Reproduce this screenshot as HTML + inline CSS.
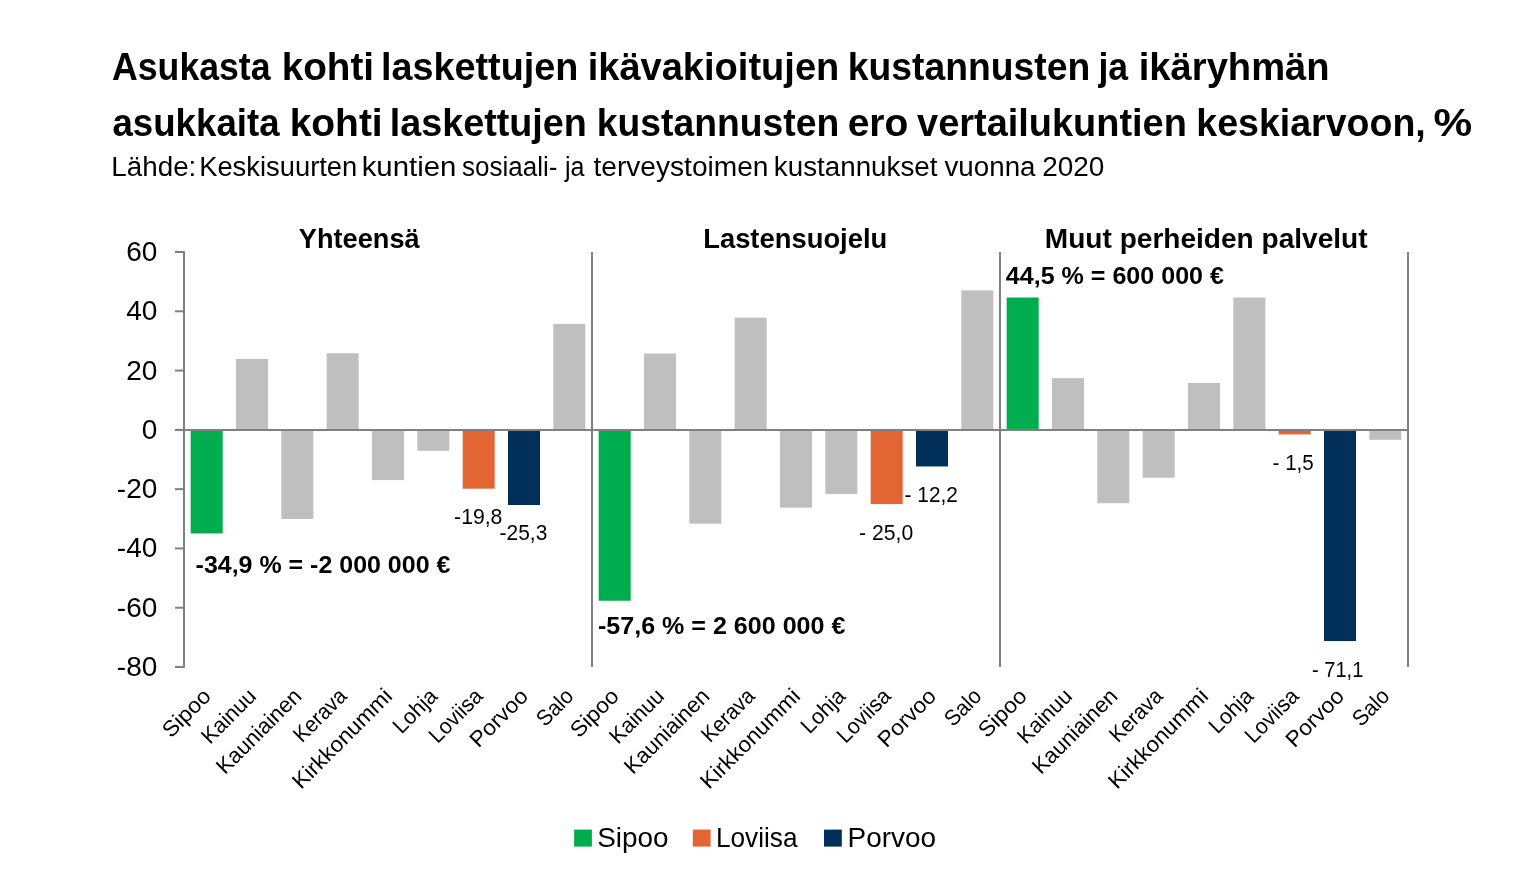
<!DOCTYPE html><html><head><meta charset="utf-8"><style>html,body{margin:0;padding:0;background:#fff;width:1536px;height:876px;overflow:hidden}svg{display:block;will-change:transform}text{font-family:"Liberation Sans",sans-serif;fill:#000}.b{font-weight:bold}</style></head><body>
<svg width="1536" height="876" viewBox="0 0 1536 876">
<rect x="190.67" y="430.00" width="32.0" height="103.45" fill="#00AD4E"/>
<rect x="236.00" y="358.86" width="32.0" height="71.14" fill="#BFBFBF"/>
<rect x="281.33" y="430.00" width="32.0" height="88.93" fill="#BFBFBF"/>
<rect x="326.67" y="353.23" width="32.0" height="76.78" fill="#BFBFBF"/>
<rect x="372.00" y="430.00" width="32.0" height="50.10" fill="#BFBFBF"/>
<rect x="417.33" y="430.00" width="32.0" height="20.75" fill="#BFBFBF"/>
<rect x="462.67" y="430.00" width="32.0" height="58.69" fill="#E26634"/>
<rect x="508.00" y="430.00" width="32.0" height="75.00" fill="#003059"/>
<rect x="553.33" y="323.88" width="32.0" height="106.12" fill="#BFBFBF"/>
<rect x="598.67" y="430.00" width="32.0" height="170.74" fill="#00AD4E"/>
<rect x="644.00" y="353.52" width="32.0" height="76.48" fill="#BFBFBF"/>
<rect x="689.33" y="430.00" width="32.0" height="93.67" fill="#BFBFBF"/>
<rect x="734.67" y="317.65" width="32.0" height="112.35" fill="#BFBFBF"/>
<rect x="780.00" y="430.00" width="32.0" height="77.66" fill="#BFBFBF"/>
<rect x="825.33" y="430.00" width="32.0" height="64.03" fill="#BFBFBF"/>
<rect x="870.67" y="430.00" width="32.0" height="74.11" fill="#E26634"/>
<rect x="916.00" y="430.00" width="32.0" height="36.46" fill="#003059"/>
<rect x="961.33" y="290.38" width="32.0" height="139.62" fill="#BFBFBF"/>
<rect x="1006.67" y="297.50" width="32.0" height="132.50" fill="#00AD4E"/>
<rect x="1052.00" y="378.12" width="32.0" height="51.88" fill="#BFBFBF"/>
<rect x="1097.33" y="430.00" width="32.0" height="73.22" fill="#BFBFBF"/>
<rect x="1142.67" y="430.00" width="32.0" height="47.73" fill="#BFBFBF"/>
<rect x="1188.00" y="382.87" width="32.0" height="47.13" fill="#BFBFBF"/>
<rect x="1233.33" y="297.50" width="32.0" height="132.50" fill="#BFBFBF"/>
<rect x="1278.67" y="430.00" width="32.0" height="4.45" fill="#E26634"/>
<rect x="1324.00" y="430.00" width="32.0" height="211.06" fill="#003059"/>
<rect x="1369.33" y="430.00" width="32.0" height="9.78" fill="#BFBFBF"/>
<g stroke="#808080" stroke-width="2" fill="none">
<path d="M175 252H184V667H175" stroke-linejoin="round"/>
<path d="M175 311.29H184"/>
<path d="M175 370.57H184"/>
<path d="M175 429.86H184"/>
<path d="M175 489.14H184"/>
<path d="M175 548.43H184"/>
<path d="M175 607.71H184"/>
<path d="M175 430.0H1408"/>
<path d="M592 252V667"/>
<path d="M1000 252V667"/>
<path d="M1408 252V667"/>
</g>
<text x="112.07" y="79.60" font-size="39" class="b" textLength="158.47" lengthAdjust="spacingAndGlyphs" xml:space="preserve">Asukasta</text>
<text x="281.68" y="79.60" font-size="39" class="b" textLength="92.35" lengthAdjust="spacingAndGlyphs" xml:space="preserve">kohti</text>
<text x="380.98" y="79.60" font-size="39" class="b" textLength="197.43" lengthAdjust="spacingAndGlyphs" xml:space="preserve">laskettujen</text>
<text x="587.68" y="79.60" font-size="39" class="b" textLength="251.61" lengthAdjust="spacingAndGlyphs" xml:space="preserve">ikävakioitujen</text>
<text x="847.76" y="79.60" font-size="39" class="b" textLength="242.45" lengthAdjust="spacingAndGlyphs" xml:space="preserve">kustannusten</text>
<text x="1098.41" y="79.60" font-size="39" class="b" textLength="29.64" lengthAdjust="spacingAndGlyphs" xml:space="preserve">ja</text>
<text x="1138.73" y="79.60" font-size="39" class="b" textLength="190.94" lengthAdjust="spacingAndGlyphs" xml:space="preserve">ikäryhmän</text>
<text x="112.47" y="136.00" font-size="39" class="b" textLength="167.07" lengthAdjust="spacingAndGlyphs" xml:space="preserve">asukkaita</text>
<text x="289.65" y="136.00" font-size="39" class="b" textLength="93.05" lengthAdjust="spacingAndGlyphs" xml:space="preserve">kohti</text>
<text x="389.73" y="136.00" font-size="39" class="b" textLength="197.13" lengthAdjust="spacingAndGlyphs" xml:space="preserve">laskettujen</text>
<text x="596.84" y="136.00" font-size="39" class="b" textLength="242.45" lengthAdjust="spacingAndGlyphs" xml:space="preserve">kustannusten</text>
<text x="847.66" y="136.00" font-size="39" class="b" textLength="60.57" lengthAdjust="spacingAndGlyphs" xml:space="preserve">ero</text>
<text x="917.05" y="136.00" font-size="39" class="b" textLength="269.81" lengthAdjust="spacingAndGlyphs" xml:space="preserve">vertailukuntien</text>
<text x="1196.30" y="136.00" font-size="39" class="b" textLength="229.48" lengthAdjust="spacingAndGlyphs" xml:space="preserve">keskiarvoon,</text>
<text x="1433.56" y="136.00" font-size="39" class="b" textLength="38.72" lengthAdjust="spacingAndGlyphs" xml:space="preserve">%</text>
<text x="111.36" y="175.60" font-size="27" textLength="84.99" lengthAdjust="spacingAndGlyphs" xml:space="preserve">Lähde:</text>
<text x="199.17" y="175.60" font-size="27" textLength="158.12" lengthAdjust="spacingAndGlyphs" xml:space="preserve">Keskisuurten</text>
<text x="361.71" y="175.60" font-size="27" textLength="94.63" lengthAdjust="spacingAndGlyphs" xml:space="preserve">kuntien</text>
<text x="462.10" y="175.60" font-size="27" textLength="95.26" lengthAdjust="spacingAndGlyphs" xml:space="preserve">sosiaali-</text>
<text x="564.98" y="175.60" font-size="27" textLength="19.51" lengthAdjust="spacingAndGlyphs" xml:space="preserve">ja</text>
<text x="593.51" y="175.60" font-size="27" textLength="174.94" lengthAdjust="spacingAndGlyphs" xml:space="preserve">terveystoimen</text>
<text x="773.85" y="175.60" font-size="27" textLength="163.64" lengthAdjust="spacingAndGlyphs" xml:space="preserve">kustannukset</text>
<text x="944.51" y="175.60" font-size="27" textLength="91.03" lengthAdjust="spacingAndGlyphs" xml:space="preserve">vuonna</text>
<text x="1042.26" y="175.60" font-size="27" textLength="62.13" lengthAdjust="spacingAndGlyphs" xml:space="preserve">2020</text>
<text x="298.86" y="247.60" font-size="27" class="b" textLength="120.78" lengthAdjust="spacingAndGlyphs" xml:space="preserve">Yhteensä</text>
<text x="703.20" y="247.50" font-size="27" class="b" textLength="184.10" lengthAdjust="spacingAndGlyphs" xml:space="preserve">Lastensuojelu</text>
<text x="1044.84" y="247.60" font-size="27" class="b" textLength="322.78" lengthAdjust="spacingAndGlyphs" xml:space="preserve">Muut perheiden palvelut</text>
<text x="1005.88" y="283.90" font-size="23.5" class="b" textLength="218.04" lengthAdjust="spacingAndGlyphs" xml:space="preserve">44,5 % = 600 000 €</text>
<text x="195.58" y="572.70" font-size="23.5" class="b" textLength="254.80" lengthAdjust="spacingAndGlyphs" xml:space="preserve">-34,9 % = -2 000 000 €</text>
<text x="597.96" y="633.80" font-size="23.5" class="b" textLength="247.42" lengthAdjust="spacingAndGlyphs" xml:space="preserve">-57,6 % = 2 600 000 €</text>
<text x="454.08" y="523.80" font-size="22" textLength="48.34" lengthAdjust="spacingAndGlyphs" xml:space="preserve">-19,8</text>
<text x="499.60" y="540.20" font-size="22" textLength="47.70" lengthAdjust="spacingAndGlyphs" xml:space="preserve">-25,3</text>
<text x="904.60" y="501.50" font-size="22" textLength="53.28" lengthAdjust="spacingAndGlyphs" xml:space="preserve">- 12,2</text>
<text x="859.10" y="539.90" font-size="22" textLength="54.16" lengthAdjust="spacingAndGlyphs" xml:space="preserve">- 25,0</text>
<text x="1272.62" y="469.70" font-size="22" textLength="41.14" lengthAdjust="spacingAndGlyphs" xml:space="preserve">- 1,5</text>
<text x="1311.96" y="676.50" font-size="22" textLength="51.44" lengthAdjust="spacingAndGlyphs" xml:space="preserve">- 71,1</text>
<text x="597.20" y="847.30" font-size="28.5" textLength="71.34" lengthAdjust="spacingAndGlyphs" xml:space="preserve">Sipoo</text>
<text x="715.92" y="847.30" font-size="28.5" textLength="81.56" lengthAdjust="spacingAndGlyphs" xml:space="preserve">Loviisa</text>
<text x="847.54" y="847.30" font-size="28.5" textLength="88.48" lengthAdjust="spacingAndGlyphs" xml:space="preserve">Porvoo</text>
<text x="157.3" y="261.00" font-size="28" text-anchor="end">60</text>
<text x="157.3" y="320.29" font-size="28" text-anchor="end">40</text>
<text x="157.3" y="379.57" font-size="28" text-anchor="end">20</text>
<text x="157.3" y="438.86" font-size="28" text-anchor="end">0</text>
<text x="157.3" y="498.14" font-size="28" text-anchor="end">-20</text>
<text x="157.3" y="557.43" font-size="28" text-anchor="end">-40</text>
<text x="157.3" y="616.71" font-size="28" text-anchor="end">-60</text>
<text x="157.3" y="676.00" font-size="28" text-anchor="end">-80</text>
<text transform="translate(212.17,697.5) rotate(-45)" text-anchor="end" font-size="22" textLength="58.4" lengthAdjust="spacingAndGlyphs">Sipoo</text>
<text transform="translate(257.50,697.5) rotate(-45)" text-anchor="end" font-size="22" textLength="67.1" lengthAdjust="spacingAndGlyphs">Kainuu</text>
<text transform="translate(302.83,697.5) rotate(-45)" text-anchor="end" font-size="22" textLength="110.1" lengthAdjust="spacingAndGlyphs">Kauniainen</text>
<text transform="translate(348.17,697.5) rotate(-45)" text-anchor="end" font-size="22" textLength="65.2" lengthAdjust="spacingAndGlyphs">Kerava</text>
<text transform="translate(393.50,697.5) rotate(-45)" text-anchor="end" font-size="22" textLength="130.9" lengthAdjust="spacingAndGlyphs">Kirkkonummi</text>
<text transform="translate(438.83,697.5) rotate(-45)" text-anchor="end" font-size="22" textLength="52.7" lengthAdjust="spacingAndGlyphs">Lohja</text>
<text transform="translate(484.17,697.5) rotate(-45)" text-anchor="end" font-size="22" textLength="66.1" lengthAdjust="spacingAndGlyphs">Loviisa</text>
<text transform="translate(529.50,697.5) rotate(-45)" text-anchor="end" font-size="22" textLength="72.1" lengthAdjust="spacingAndGlyphs">Porvoo</text>
<text transform="translate(574.83,697.5) rotate(-45)" text-anchor="end" font-size="22" textLength="42.3" lengthAdjust="spacingAndGlyphs">Salo</text>
<text transform="translate(620.17,697.5) rotate(-45)" text-anchor="end" font-size="22" textLength="58.4" lengthAdjust="spacingAndGlyphs">Sipoo</text>
<text transform="translate(665.50,697.5) rotate(-45)" text-anchor="end" font-size="22" textLength="67.1" lengthAdjust="spacingAndGlyphs">Kainuu</text>
<text transform="translate(710.83,697.5) rotate(-45)" text-anchor="end" font-size="22" textLength="110.1" lengthAdjust="spacingAndGlyphs">Kauniainen</text>
<text transform="translate(756.17,697.5) rotate(-45)" text-anchor="end" font-size="22" textLength="65.2" lengthAdjust="spacingAndGlyphs">Kerava</text>
<text transform="translate(801.50,697.5) rotate(-45)" text-anchor="end" font-size="22" textLength="130.9" lengthAdjust="spacingAndGlyphs">Kirkkonummi</text>
<text transform="translate(846.83,697.5) rotate(-45)" text-anchor="end" font-size="22" textLength="52.7" lengthAdjust="spacingAndGlyphs">Lohja</text>
<text transform="translate(892.17,697.5) rotate(-45)" text-anchor="end" font-size="22" textLength="66.1" lengthAdjust="spacingAndGlyphs">Loviisa</text>
<text transform="translate(937.50,697.5) rotate(-45)" text-anchor="end" font-size="22" textLength="72.1" lengthAdjust="spacingAndGlyphs">Porvoo</text>
<text transform="translate(982.83,697.5) rotate(-45)" text-anchor="end" font-size="22" textLength="42.3" lengthAdjust="spacingAndGlyphs">Salo</text>
<text transform="translate(1028.17,697.5) rotate(-45)" text-anchor="end" font-size="22" textLength="58.4" lengthAdjust="spacingAndGlyphs">Sipoo</text>
<text transform="translate(1073.50,697.5) rotate(-45)" text-anchor="end" font-size="22" textLength="67.1" lengthAdjust="spacingAndGlyphs">Kainuu</text>
<text transform="translate(1118.83,697.5) rotate(-45)" text-anchor="end" font-size="22" textLength="110.1" lengthAdjust="spacingAndGlyphs">Kauniainen</text>
<text transform="translate(1164.17,697.5) rotate(-45)" text-anchor="end" font-size="22" textLength="65.2" lengthAdjust="spacingAndGlyphs">Kerava</text>
<text transform="translate(1209.50,697.5) rotate(-45)" text-anchor="end" font-size="22" textLength="130.9" lengthAdjust="spacingAndGlyphs">Kirkkonummi</text>
<text transform="translate(1254.83,697.5) rotate(-45)" text-anchor="end" font-size="22" textLength="52.7" lengthAdjust="spacingAndGlyphs">Lohja</text>
<text transform="translate(1300.17,697.5) rotate(-45)" text-anchor="end" font-size="22" textLength="66.1" lengthAdjust="spacingAndGlyphs">Loviisa</text>
<text transform="translate(1345.50,697.5) rotate(-45)" text-anchor="end" font-size="22" textLength="72.1" lengthAdjust="spacingAndGlyphs">Porvoo</text>
<text transform="translate(1390.83,697.5) rotate(-45)" text-anchor="end" font-size="22" textLength="42.3" lengthAdjust="spacingAndGlyphs">Salo</text>
<rect x="574.1" y="829.6" width="17.8" height="17" fill="#00AD4E"/>
<rect x="692.8" y="829.6" width="17.8" height="17" fill="#E26634"/>
<rect x="824.0" y="829.6" width="17.8" height="17" fill="#003059"/>
</svg></body></html>
